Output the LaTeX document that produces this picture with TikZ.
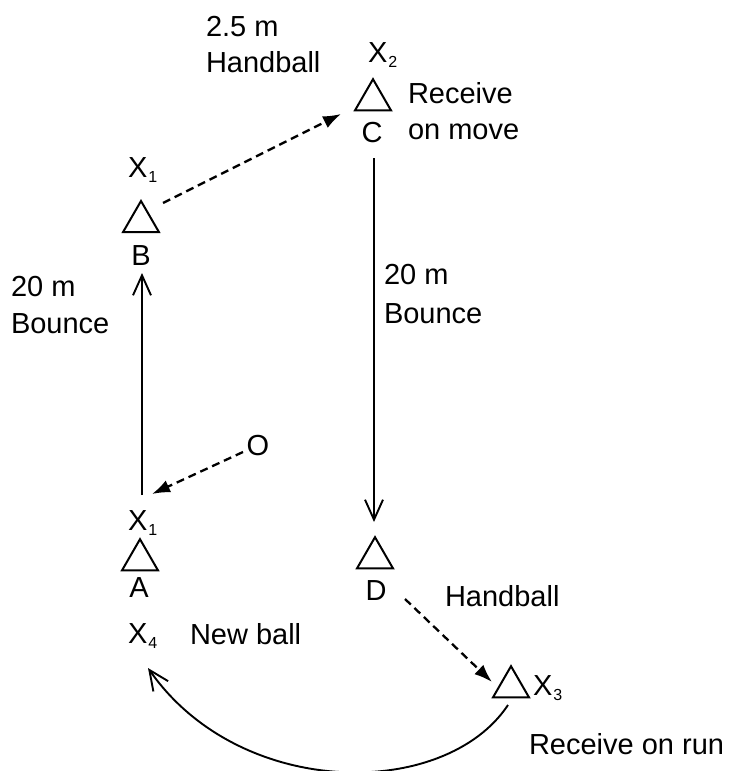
\documentclass[tikz,border=0pt]{standalone}
\usepackage{fontspec}
\setmainfont{Liberation Sans}
\usetikzlibrary{shapes.geometric,arrows.meta}
\newcommand\subx[1]{X\kern1pt\raisebox{-5pt}{\fontsize{16}{16}\selectfont#1}}
\begin{document}
\begin{tikzpicture}[x=1pt,y=-1pt,
  lbl/.style={inner sep=0pt,outer sep=0pt,anchor=base west,font=\fontsize{29}{36}\selectfont},
  clbl/.style={inner sep=0pt,outer sep=0pt,anchor=base,font=\fontsize{29}{36}\selectfont},
  tri/.style={regular polygon,regular polygon sides=3,minimum size=41.6pt,inner sep=0pt,draw,line width=2pt},
  solidarrow/.style={line width=1.9pt,-{Straight Barb[length=20pt,width=18pt,line width=1.9pt]}},
  dasharrow/.style={line width=2.3pt,dash pattern=on 8pt off 5pt,-{Latex[length=18pt,width=13pt]}}]
\useasboundingbox (0,0) rectangle (729,771);
% triangles
\node[tri] (triB) at (141,221.8) {};
\node[tri] (triC) at (373,100) {};
\node[tri] (triA) at (140,560) {};
\node[tri] (triD) at (375,558) {};
\node[tri] (triX) at (511,687) {};
% labels
\node[lbl] (t25) at (206,36) {2.5 m};
\node[lbl] (thb1) at (206,72) {Handball};
\node[lbl] (xtwo) at (368,62) {\subx{2}};
\node[lbl] (rc1) at (408,103) {Receive};
\node[lbl] (rc2) at (408,139) {on move};
\node[clbl] (lC) at (372,142) {C};
\node[lbl] (xoneB) at (128,177) {\subx{1}};
\node[clbl] (lB) at (141,265) {B};
\node[lbl] (l20a) at (11,296) {20 m};
\node[lbl] (lba) at (11,333) {Bounce};
\node[lbl] (l20b) at (384,284) {20 m};
\node[lbl] (lbb) at (384,323) {Bounce};
\node[clbl] (lO) at (258,455) {O};
\node[lbl] (xoneA) at (128,530) {\subx{1}};
\node[clbl] (lA) at (139,597) {A};
\node[clbl] (lD) at (376,600) {D};
\node[lbl] (thb2) at (445,606) {Handball};
\node[lbl] (xfour) at (128,643) {\subx{4}};
\node[lbl] (nb) at (190,644) {New ball};
\node[lbl] (xthree) at (533,695) {\subx{3}};
\node[lbl] (rr) at (529,754) {Receive on run};
% connector ends
\coordinate (BCs) at (163,203);
\coordinate (BCe) at (341,114);
\coordinate (Os) at (243,452);
\coordinate (Ae) at (152,494);
\coordinate (As) at (142,495);
\coordinate (Bt) at (142,273);
\coordinate (Cs) at (374,158);
\coordinate (Dt) at (374,522);
\coordinate (Ds) at (405,599);
\coordinate (Xe) at (492,682);
\coordinate (Xs) at (508,705);
\coordinate (X4e) at (148,668);
% connectors
\draw[dasharrow] (BCs) -- (BCe);
\draw[dasharrow] (Os) -- (Ae);
\draw[solidarrow] (As) -- (Bt);
\draw[solidarrow] (Cs) -- (Dt);
\draw[dasharrow] (Ds) -- (Xe);
\draw[solidarrow] (Xs) .. controls (445,800) and (240,800) .. (X4e);
\end{tikzpicture}
\end{document}
